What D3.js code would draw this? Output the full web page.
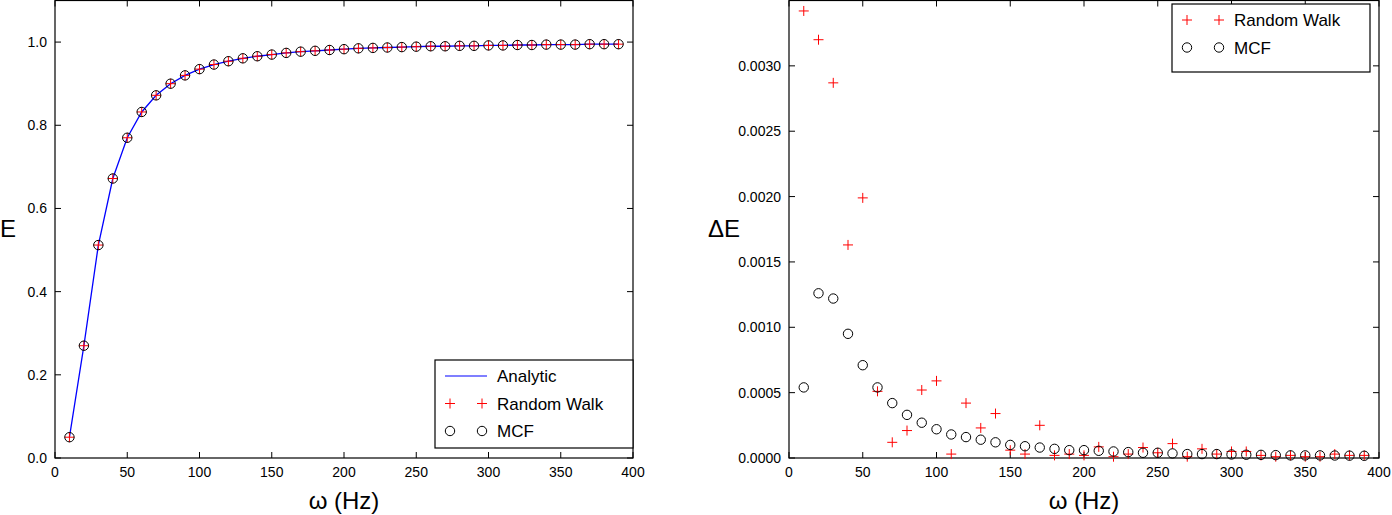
<!DOCTYPE html><html><head><meta charset="utf-8"><script src="https://cdn.jsdelivr.net/npm/d3@7"></script>
<style>body{margin:0;background:#fff}svg{font-family:"Liberation Sans",Arial,sans-serif}</style></head><body><svg id="c" width="1392" height="515"></svg><script>
const omega=d3.range(10,400,10);
const eVals=[0.05,0.27,0.512,0.672,0.77,0.832,0.872,0.9,0.92,0.935,0.946,0.954,0.961,0.966,0.97,0.974,0.977,0.979,0.981,0.983,0.985,0.986,0.987,0.988,0.989,0.99,0.99,0.991,0.991,0.992,0.992,0.993,0.993,0.994,0.994,0.994,0.995,0.995,0.995];
const rwErr=[0.00342,0.0032,0.00287,0.00163,0.00199,0.00051,0.00012,0.00021,0.00052,0.00059,0.00003,0.00042,0.00023,0.00034,0.00006,0.00003,0.00025,0.00002,0.00003,0.00002,0.000085,0.00001,0.00003,0.00008,0.00004,0.00011,0.00001,0.00007,0.00003,0.00005,0.00005,0.00002,0.00001,0.00002,0.00001,0.00001,0.00003,0.00002,0.00002];
const mcfErr=[0.00054,0.00126,0.00122,0.00095,0.00071,0.00054,0.00042,0.00033,0.00027,0.00022,0.00018,0.00016,0.00014,0.00012,0.0001,0.00009,0.00008,0.00007,0.00006,0.00006,0.000055,0.00005,0.000045,0.00004,0.00004,0.000035,0.00003,0.00003,0.00003,0.000027,0.000025,0.000024,0.000022,0.00002,0.00002,0.00002,0.000019,0.000018,0.000017];
const leftTicks=[0,0.2,0.4,0.6,0.8,1.0], rightTicks=[0,0.0005,0.001,0.0015,0.002,0.0025,0.003], xTicks=d3.range(0,401,50);
const svg=d3.select("#c");
function panel(x0,x1,yMax,yTicks,fmt,ylab,lines,legend,legPos){
 const x=d3.scaleLinear([0,400],[x0,x1]), y=d3.scaleLinear([0,yMax],[458,0.5]);
 const g=svg.append("g");
 g.append("rect").attr("x",x0).attr("y",0.5).attr("width",x1-x0).attr("height",457.5).attr("fill","none").attr("stroke","#000").attr("stroke-width",1.2);
 xTicks.forEach(t=>{g.append("line").attr("x1",x(t)).attr("x2",x(t)).attr("y1",458).attr("y2",452).attr("stroke","#000");
  g.append("line").attr("x1",x(t)).attr("x2",x(t)).attr("y1",0.5).attr("y2",6.5).attr("stroke","#000");
  g.append("text").attr("x",x(t)).attr("y",477).attr("text-anchor","middle").attr("font-size",14).text(t);});
 yTicks.forEach(t=>{g.append("line").attr("x1",x0).attr("x2",x0+6).attr("y1",y(t)).attr("y2",y(t)).attr("stroke","#000");
  g.append("line").attr("x1",x1).attr("x2",x1-6).attr("y1",y(t)).attr("y2",y(t)).attr("stroke","#000");
  g.append("text").attr("x",x0-8).attr("y",y(t)+5).attr("text-anchor","end").attr("font-size",14).text(fmt(t));});
 g.append("text").attr("x",(x0+x1)/2).attr("y",509).attr("text-anchor","middle").attr("font-size",24).text("ω (Hz)");
 g.append("text").attr("x",ylab[1]).attr("y",237).attr("text-anchor","middle").attr("font-size",24).text(ylab[0]);
 lines(g,x,y);
 const [lx,ly,lw,lh]=legPos;
 g.append("rect").attr("x",lx).attr("y",ly).attr("width",lw).attr("height",lh).attr("fill","#fff").attr("stroke","#000").attr("stroke-width",1.2);
 legend.forEach((L,i)=>{const cy=ly+16+i*27.5;
  if(L.t==="line")g.append("line").attr("x1",lx+10).attr("x2",lx+52).attr("y1",cy).attr("y2",cy).attr("stroke","#00f").attr("stroke-width",1.2);
  else [lx+15,lx+47].forEach(px=>mark(g,L.t,px,cy));
  g.append("text").attr("x",lx+62).attr("y",cy+6).attr("font-size",17).text(L.n);});
}
function mark(g,t,px,py){
 if(t==="plus"){g.append("path").attr("d",`M${px-5},${py}H${px+5}M${px},${py-5}V${py+5}`).attr("stroke","#f00").attr("stroke-width",1);}
 else g.append("circle").attr("cx",px).attr("cy",py).attr("r",4.7).attr("fill","none").attr("stroke","#000").attr("stroke-width",1);
}
panel(55,633,1.1,leftTicks,d3.format(".1f"),["E",8],(g,x,y)=>{
 g.append("path").attr("d",d3.line().x((d,i)=>x(omega[i])).y(d=>y(d))(eVals)).attr("fill","none").attr("stroke","#00f").attr("stroke-width",1.3);
 omega.forEach((w,i)=>mark(g,"plus",x(w),y(eVals[i])));
 omega.forEach((w,i)=>mark(g,"circle",x(w),y(eVals[i])));
},[{t:"line",n:"Analytic"},{t:"plus",n:"Random Walk"},{t:"circle",n:"MCF"}],[435,360,198,88]);
panel(789,1379,0.0035,rightTicks,d3.format(".4f"),["ΔE",724],(g,x,y)=>{
 omega.forEach((w,i)=>mark(g,"plus",x(w),y(rwErr[i])));
 omega.forEach((w,i)=>mark(g,"circle",x(w),y(mcfErr[i])));
},[{t:"plus",n:"Random Walk"},{t:"circle",n:"MCF"}],[1172,4,198,68]);
</script></body></html>
